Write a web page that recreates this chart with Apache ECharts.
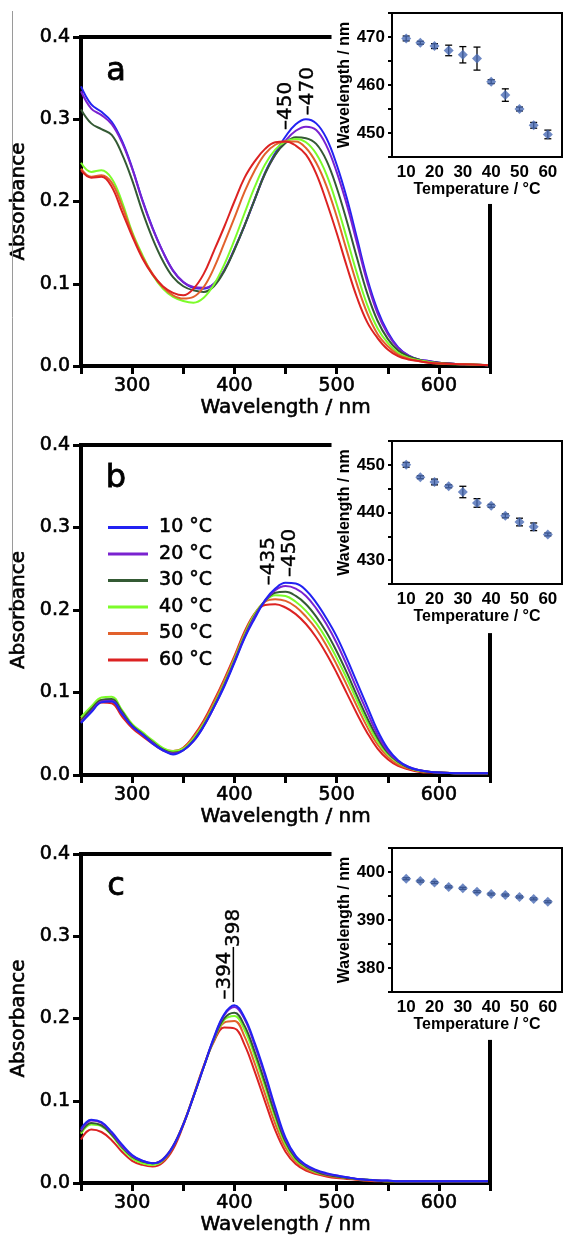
<!DOCTYPE html>
<html>
<head>
<meta charset="utf-8">
<script src="https://cdn.jsdelivr.net/npm/echarts@6/dist/echarts.min.js"></script>
<style>
html,body{margin:0;padding:0;background:#fff;}
#c{width:565px;height:1236px;}
</style>
</head>
<body>
<div id="c"></div>
<script>
// ---------- data ----------
const WAVELENGTH = [250,260,270,280,290,300,310,320,330,340,350,360,370,380,390,400,410,420,430,440,450,460,470,480,490,500,510,520,530,540,550,560,570,580,590,600,625,650];
const LEGEND_LABELS = ['10 °C','20 °C','30 °C','40 °C','50 °C','60 °C'];
const COLORS = ['#2222f2','#7a22d0','#345a34','#7cfc2a','#e2612c','#dc2222'];

// panel a
const A_10 = [.340,.318,.309,.297,.274,.241,.202,.168,.139,.116,.102,.095,.094,.100,.116,.142,.171,.203,.235,.259,.279,.294,.300,.295,.277,.245,.204,.155,.106,.068,.041,.023,.013,.008,.006,.004,.002,.001];
const A_20 = [.334,.313,.305,.294,.272,.240,.201,.167,.139,.116,.102,.096,.095,.100,.116,.142,.171,.203,.234,.257,.274,.286,.291,.287,.268,.236,.196,.149,.102,.064,.039,.022,.013,.008,.006,.004,.002,.001];
const A_30 = [.312,.295,.288,.281,.258,.226,.188,.155,.128,.108,.097,.092,.090,.097,.115,.141,.171,.203,.234,.257,.271,.278,.277,.270,.250,.217,.176,.131,.088,.055,.033,.019,.012,.008,.005,.004,.002,.001];
const A_40 = [.247,.236,.238,.228,.200,.163,.135,.111,.094,.084,.079,.077,.083,.099,.123,.153,.186,.218,.245,.263,.273,.276,.272,.258,.233,.197,.155,.112,.074,.046,.028,.016,.010,.007,.005,.003,.002,.001];
const A_50 = [.240,.230,.232,.223,.195,.161,.133,.112,.096,.086,.082,.084,.096,.119,.149,.180,.212,.238,.258,.269,.273,.273,.265,.247,.219,.182,.140,.099,.064,.039,.024,.014,.009,.006,.004,.003,.002,.001];
const A_60 = [.238,.229,.230,.218,.188,.158,.131,.111,.097,.089,.086,.094,.112,.140,.169,.200,.229,.249,.264,.272,.273,.268,.257,.234,.200,.162,.121,.083,.053,.034,.020,.012,.008,.006,.004,.003,.002,.001];

// panel b
const B_10 = [.063,.076,.088,.089,.074,.059,.049,.038,.030,.025,.030,.041,.059,.082,.107,.136,.166,.190,.212,.226,.233,.232,.224,.209,.190,.168,.141,.112,.083,.054,.032,.018,.010,.006,.004,.003,.002,.002];
const B_20 = [.064,.077,.089,.090,.075,.059,.049,.039,.030,.026,.030,.041,.059,.082,.108,.137,.167,.192,.211,.224,.229,.226,.217,.202,.183,.160,.133,.104,.076,.049,.029,.017,.010,.006,.004,.003,.002,.002];
const B_30 = [.066,.080,.091,.092,.077,.060,.050,.040,.031,.027,.030,.042,.060,.083,.109,.138,.168,.193,.211,.221,.222,.217,.207,.192,.173,.150,.124,.096,.069,.045,.027,.016,.009,.006,.004,.003,.002,.002];
const B_40 = [.070,.083,.094,.095,.079,.062,.052,.042,.033,.029,.032,.044,.062,.085,.111,.140,.170,.195,.211,.218,.217,.210,.199,.184,.165,.142,.117,.090,.064,.041,.025,.015,.009,.005,.004,.003,.002,.002];
const B_50 = [.068,.081,.091,.090,.074,.059,.049,.040,.032,.029,.033,.046,.064,.088,.114,.142,.172,.196,.210,.213,.211,.204,.192,.177,.157,.134,.109,.083,.058,.037,.022,.013,.008,.005,.004,.003,.002,.002];
const B_60 = [.065,.078,.088,.087,.071,.057,.047,.038,.030,.028,.033,.047,.066,.090,.116,.144,.174,.196,.206,.207,.203,.195,.183,.167,.147,.124,.099,.074,.051,.032,.019,.011,.007,.004,.003,.003,.002,.002];

// panel c
const C_10 = [.066,.077,.074,.062,.047,.034,.027,.024,.029,.045,.071,.105,.141,.177,.205,.216,.201,.170,.133,.092,.055,.033,.022,.016,.012,.009,.007,.005,.004,.003,.003,.002,.002,.002,.002,.002,.002,.002];
const C_20 = [.064,.076,.073,.061,.045,.033,.027,.024,.028,.044,.071,.105,.141,.176,.204,.214,.199,.167,.130,.089,.053,.032,.021,.015,.011,.009,.007,.005,.004,.003,.003,.002,.002,.002,.002,.002,.002,.002];
const C_30 = [.062,.073,.070,.059,.044,.032,.026,.024,.028,.044,.071,.105,.141,.175,.200,.207,.191,.159,.122,.083,.050,.030,.020,.014,.010,.008,.006,.005,.004,.003,.002,.002,.002,.002,.002,.002,.002,.002];
const C_40 = [.060,.071,.069,.058,.042,.030,.024,.022,.027,.044,.071,.105,.141,.174,.198,.203,.186,.154,.117,.079,.047,.028,.019,.013,.010,.008,.006,.005,.004,.003,.002,.002,.002,.002,.002,.002,.002,.002];
const C_50 = [.061,.072,.070,.059,.043,.031,.025,.024,.029,.045,.072,.106,.142,.174,.195,.197,.178,.145,.108,.072,.043,.026,.017,.012,.009,.007,.006,.004,.003,.003,.002,.002,.002,.002,.002,.002,.002,.002];
const C_60 = [.053,.065,.062,.052,.038,.027,.022,.020,.025,.041,.070,.106,.142,.172,.189,.188,.168,.135,.099,.064,.038,.023,.015,.011,.008,.006,.005,.004,.003,.002,.002,.002,.002,.002,.002,.002,.002,.002];

// insets: peak wavelength vs temperature
const TEMPS = [10,15,20,25,30,35,40,45,50,55,60];
const INSET_A = [469.7,468.8,468.1,467.2,466.3,465.5,460.7,457.9,455.0,451.6,449.7];
const INSET_A_ERR = [0.5,0.3,0.5,1.1,1.7,2.4,0.4,1.3,0.4,0.6,0.9];
const INSET_B = [450.0,447.4,446.4,445.5,444.3,442.0,441.4,439.3,438.0,437.0,435.4];
const INSET_B_ERR = [0.5,0.3,0.6,0.3,1.2,0.9,0.3,0.4,0.8,0.8,0.3];
const INSET_C = [398.6,398.1,397.8,396.9,396.6,395.9,395.4,395.2,394.8,394.4,393.8];
const INSET_C_ERR = [0.2,0.2,0.2,0.2,0.2,0.2,0.2,0.2,0.2,0.2,0.2];
const INSET_Y_RANGES = [[445,475],[425,455],[375,405]];

// annotations (data space)
const PANEL_LETTERS = ['a','b','c'];
const PEAK_LABELS = [
  {panel:0, text:'–450', nm:450, abs:0.287},
  {panel:0, text:'–470', nm:472, abs:0.305},
  {panel:1, text:'–435', nm:434, abs:0.230},
  {panel:1, text:'–450', nm:454, abs:0.240},
  {panel:2, text:'–394', nm:391, abs:0.223},
  {panel:2, text:'398', nm:399, abs:0.287}
];
const PEAK_LINES = [{panel:2, nm:399, from:0.287, to:0.220}];
const FRAME_TOP_END = 495;
const FRAME_RIGHT_START = [0.197, 0.172, 0.174];

// ---------- layout ----------
const MAIN_GRIDS = [
  {left:77, top:37, width:413, height:329},
  {left:77, top:445, width:413, height:330},
  {left:77, top:854, width:413, height:329}
];
const INSET_GRIDS = [
  {left:392, top:13, width:171, height:144},
  {left:392, top:441, width:171, height:143},
  {left:392, top:848, width:171, height:144}
];
const LETTER_POS = [[116,72],[116,479],[116,887]];

const MAIN_FONT = 'DejaVu Sans';
const INSET_FONT = 'Liberation Sans';
const HEAVY = {textBorderColor:'#000', textBorderWidth:0.6};

const grids = [], xAxes = [], yAxes = [], series = [];
const panelData = [[A_10,A_20,A_30,A_40,A_50,A_60],[B_10,B_20,B_30,B_40,B_50,B_60],[C_10,C_20,C_30,C_40,C_50,C_60]];
const insetVals = [INSET_A, INSET_B, INSET_C];
const insetErrs = [INSET_A_ERR, INSET_B_ERR, INSET_C_ERR];

for (let p = 0; p < 3; p++) {
  const gi = p * 2, ii = p * 2 + 1;
  grids.push(Object.assign({containLabel:false}, MAIN_GRIDS[p]));
  grids.push(Object.assign({containLabel:false, show:true, borderColor:'#000', borderWidth:2, backgroundColor:'#fff'}, INSET_GRIDS[p]));
  xAxes.push({
    type:'value', gridIndex:gi, min:250, max:650, interval:50,
    axisLine:{show:true, onZero:false, lineStyle:{color:'#000', width:4}},
    axisTick:{show:true, length:8, lineStyle:{color:'#000', width:3}},
    axisLabel:Object.assign({formatter:v => (v % 100 === 0 ? String(v) : ''), margin:11, color:'#000', fontFamily:MAIN_FONT, fontSize:19}, HEAVY),
    splitLine:{show:false},
    name:'Wavelength / nm', nameLocation:'middle', nameGap:31,
    nameTextStyle:Object.assign({color:'#000', fontFamily:MAIN_FONT, fontSize:20}, HEAVY)
  });
  yAxes.push({
    type:'value', gridIndex:gi, min:0, max:0.4, interval:0.1,
    axisLine:{show:true, onZero:false, lineStyle:{color:'#000', width:4}},
    axisTick:{show:true, length:8, lineStyle:{color:'#000', width:3}},
    axisLabel:Object.assign({formatter:v => v.toFixed(1), margin:11, color:'#000', fontFamily:MAIN_FONT, fontSize:19}, HEAVY),
    splitLine:{show:false},
    name:'Absorbance', nameLocation:'middle', nameGap:44,
    nameTextStyle:Object.assign({color:'#000', fontFamily:MAIN_FONT, fontSize:20}, HEAVY)
  });
  xAxes.push({
    type:'value', gridIndex:ii, min:5, max:65, interval:5,
    axisLine:{show:true, onZero:false, lineStyle:{color:'#000', width:2}},
    axisTick:{show:false},
    axisLabel:{formatter:v => (v % 10 === 0 ? String(v) : ''), margin:7, color:'#000', fontFamily:INSET_FONT, fontWeight:'bold', fontSize:17},
    splitLine:{show:false},
    name:'Temperature / °C', nameLocation:'middle', nameGap:22,
    nameTextStyle:{color:'#000', fontFamily:INSET_FONT, fontWeight:'bold', fontSize:16}
  });
  yAxes.push({
    type:'value', gridIndex:ii, min:INSET_Y_RANGES[p][0], max:INSET_Y_RANGES[p][1], interval:5,
    axisLine:{show:true, onZero:false, lineStyle:{color:'#000', width:2}},
    axisTick:{show:true, length:4, lineStyle:{color:'#000', width:2}},
    axisLabel:{formatter:v => (v % 10 === 0 ? String(v) : ''), margin:7, color:'#000', fontFamily:INSET_FONT, fontWeight:'bold', fontSize:17},
    splitLine:{show:false},
    name:'Wavelength / nm', nameLocation:'middle', nameGap:37,
    nameTextStyle:{color:'#000', fontFamily:INSET_FONT, fontWeight:'bold', fontSize:16}
  });

  const order = p === 0 ? [0,1,2,3,4,5] : [5,4,3,2,1,0];
  order.forEach(i => {
    series.push({
      type:'line', name:LEGEND_LABELS[i], xAxisIndex:gi, yAxisIndex:gi,
      data:WAVELENGTH.map((w,k) => [w, panelData[p][i][k]]),
      showSymbol:false, symbol:'none', smooth:0.4, animation:false,
      lineStyle:{color:COLORS[i], width:2}, itemStyle:{color:COLORS[i]}, z:2
    });
  });

  series.push({
    type:'custom', xAxisIndex:ii, yAxisIndex:ii, animation:false, z:3,
    data:TEMPS.map((t,k) => [t, insetVals[p][k], insetErrs[p][k]]),
    renderItem:(params, api) => {
      const x = api.value(0), y = api.value(1), e = api.value(2);
      const a = api.coord([x, y + e]), b = api.coord([x, y - e]);
      const hw = 3.5, st = {stroke:'#000', lineWidth:1.3};
      return {type:'group', children:[
        {type:'line', shape:{x1:a[0], y1:a[1], x2:b[0], y2:b[1]}, style:st},
        {type:'line', shape:{x1:a[0]-hw, y1:a[1], x2:a[0]+hw, y2:a[1]}, style:st},
        {type:'line', shape:{x1:b[0]-hw, y1:b[1], x2:b[0]+hw, y2:b[1]}, style:st}
      ]};
    }
  });
  series.push({
    type:'scatter', xAxisIndex:ii, yAxisIndex:ii, animation:false, z:4,
    symbol:'diamond', symbolSize:10,
    itemStyle:{color:'#4a6cb5'},
    data:TEMPS.map((t,k) => [t, insetVals[p][k]])
  });
}

const chart = echarts.init(document.getElementById('c'), null, {renderer:'canvas'});
chart.setOption({
  backgroundColor:'#fff',
  animation:false,
  grid:grids, xAxis:xAxes, yAxis:yAxes, series:series,
  legend:{
    show:true, orient:'vertical', left:103, top:512.5,
    itemWidth:40, itemHeight:3, itemGap:6.5, icon:'rect',
    data:LEGEND_LABELS, selectedMode:false,
    formatter:n => ' ' + n,
    textStyle:Object.assign({color:'#000', fontFamily:MAIN_FONT, fontSize:19, lineHeight:20}, HEAVY)
  }
});

// decorations positioned through the library's coordinate conversion
const g = [];
for (let p = 0; p < 3; p++) {
  const gi = p * 2;
  const tl = chart.convertToPixel({gridIndex:gi}, [250, 0.4]);
  const te = chart.convertToPixel({gridIndex:gi}, [FRAME_TOP_END, 0.4]);
  const rs = chart.convertToPixel({gridIndex:gi}, [650, FRAME_RIGHT_START[p]]);
  const rb = chart.convertToPixel({gridIndex:gi}, [650, 0]);
  g.push({type:'line', z:5, shape:{x1:tl[0]-2, y1:tl[1], x2:te[0], y2:te[1]}, style:{stroke:'#000', lineWidth:4}});
  g.push({type:'line', z:5, shape:{x1:rs[0], y1:rs[1], x2:rb[0], y2:rb[1]+2}, style:{stroke:'#000', lineWidth:4}});
  g.push({type:'text', z:5, x:LETTER_POS[p][0], y:LETTER_POS[p][1],
    style:{text:PANEL_LETTERS[p], fill:'#000', stroke:'#000', lineWidth:0.8, fontFamily:MAIN_FONT, fontSize:32, align:'center', verticalAlign:'middle'}});
}
PEAK_LABELS.forEach(l => {
  const pt = chart.convertToPixel({gridIndex:l.panel*2}, [l.nm, l.abs]);
  g.push({type:'text', z:5, x:pt[0], y:pt[1], rotation:Math.PI/2,
    style:{text:l.text, fill:'#000', stroke:'#000', lineWidth:0.4, fontFamily:MAIN_FONT, fontSize:20, align:'left', verticalAlign:'middle'}});
});
PEAK_LINES.forEach(l => {
  const a = chart.convertToPixel({gridIndex:l.panel*2}, [l.nm, l.from]);
  const b = chart.convertToPixel({gridIndex:l.panel*2}, [l.nm, l.to]);
  g.push({type:'line', z:5, shape:{x1:a[0], y1:a[1], x2:b[0], y2:b[1]}, style:{stroke:'#000', lineWidth:1.5}});
});
// thin page-edge rule at far left
g.push({type:'line', z:5, shape:{x1:12.5, y1:11, x2:12.5, y2:624}, style:{stroke:'#9a9a9a', lineWidth:1}});
chart.setOption({graphic:{elements:g}});
</script>
</body>
</html>
